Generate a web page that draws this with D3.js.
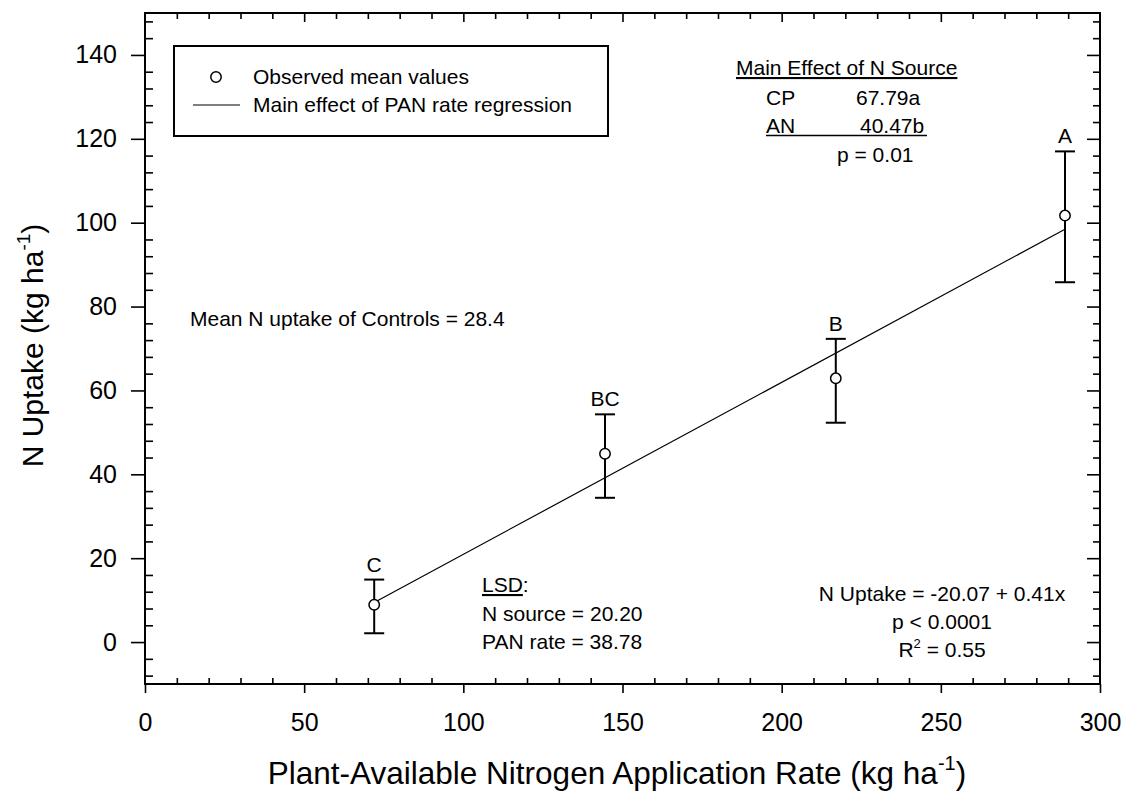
<!DOCTYPE html>
<html>
<head>
<meta charset="utf-8">
<script src="https://cdn.jsdelivr.net/npm/d3@7"></script>
<style>
  html, body { margin: 0; padding: 0; background: #fff; }
  svg { display: block; font-family: "Liberation Sans", Arial, Helvetica, sans-serif; }
</style>
</head>
<body>
<svg id="chart" width="1124" height="798"></svg>
<script>
// PAN application rates (kg ha-1) and observed mean N uptake
const panRate   = [72, 144.5, 217, 289];
const meanUptake = [8.9, 44.9, 62.9, 101.7];
const barLow    = [2.1, 34.4, 52.3, 85.8];
const barHigh   = [14.9, 54.3, 72.3, 117.0];
const groupLetters = ["C", "BC", "B", "A"];

// Regression: N Uptake = -20.07 + 0.41x
const regIntercept = -20.07;
const regSlope = 0.41;

const xTicks = [0, 50, 100, 150, 200, 250, 300];
const yTicks = [0, 20, 40, 60, 80, 100, 120, 140];

const svg = d3.select("#chart");
const L = 145, R = 1100, T = 13, B = 684;

const x = d3.scaleLinear().domain([0, 300]).range([L, R]);
const y = d3.scaleLinear().domain([-10, 150]).range([B, T]);

const xMinor = d3.range(10, 300, 10).filter(v => v % 50 !== 0);
const yMinor = d3.range(-8, 150, 4).filter(v => v % 20 !== 0);

const g = svg.append("g");

// Bottom axis: major ticks outside, minor ticks inside
g.append("g")
  .attr("transform", `translate(0,${B})`)
  .call(d3.axisBottom(x).tickValues(xTicks).tickSize(9).tickPadding(20).tickSizeOuter(0))
  .call(a => a.selectAll("text").attr("font-size", 25).attr("fill", "#000").attr("font-family", "inherit"));
g.append("g")
  .attr("transform", `translate(0,${B})`)
  .call(d3.axisTop(x).tickValues(xMinor).tickSize(6).tickFormat("").tickSizeOuter(0));

// Top axis: ticks inside
g.append("g")
  .attr("transform", `translate(0,${T})`)
  .call(d3.axisBottom(x).tickValues(xTicks.slice(1, -1)).tickSize(9).tickFormat("").tickSizeOuter(0));
g.append("g")
  .attr("transform", `translate(0,${T})`)
  .call(d3.axisBottom(x).tickValues(xMinor).tickSize(6).tickFormat("").tickSizeOuter(0));

// Left axis: major ticks outside, minor inside
g.append("g")
  .attr("transform", `translate(${L},0)`)
  .call(d3.axisLeft(y).tickValues(yTicks).tickSize(14).tickPadding(14).tickSizeOuter(0))
  .call(a => a.selectAll("text").attr("font-size", 25).attr("fill", "#000").attr("font-family", "inherit"));
g.append("g")
  .attr("transform", `translate(${L},0)`)
  .call(d3.axisRight(y).tickValues(yMinor).tickSize(8).tickFormat("").tickSizeOuter(0));

// Right axis: ticks inside
g.append("g")
  .attr("transform", `translate(${R},0)`)
  .call(d3.axisLeft(y).tickValues(yTicks).tickSize(13).tickFormat("").tickSizeOuter(0));
g.append("g")
  .attr("transform", `translate(${R},0)`)
  .call(d3.axisLeft(y).tickValues(yMinor).tickSize(7).tickFormat("").tickSizeOuter(0));

g.selectAll(".domain").remove();
g.selectAll(".tick line").attr("stroke", "#000").attr("stroke-width", 1.6);

// Frame
svg.append("rect")
  .attr("x", L).attr("y", T).attr("width", R - L).attr("height", B - T)
  .attr("fill", "none").attr("stroke", "#000").attr("stroke-width", 2);

// Regression line across the observed range
const xr = d3.extent(panRate);
svg.append("line")
  .attr("x1", x(xr[0])).attr("y1", y(regIntercept + regSlope * xr[0]))
  .attr("x2", x(xr[1])).attr("y2", y(regIntercept + regSlope * xr[1]))
  .attr("stroke", "#000").attr("stroke-width", 1.2);

// Error bars
const pts = panRate.map((v, i) => ({ x: v, m: meanUptake[i], lo: barLow[i], hi: barHigh[i], lab: groupLetters[i] }));
const eb = svg.append("g").attr("stroke", "#000").attr("stroke-width", 2);
pts.forEach(d => {
  eb.append("line").attr("x1", x(d.x)).attr("x2", x(d.x)).attr("y1", y(d.lo)).attr("y2", y(d.hi));
  eb.append("line").attr("x1", x(d.x) - 10).attr("x2", x(d.x) + 10).attr("y1", y(d.lo)).attr("y2", y(d.lo));
  eb.append("line").attr("x1", x(d.x) - 10).attr("x2", x(d.x) + 10).attr("y1", y(d.hi)).attr("y2", y(d.hi));
});

// Mean markers
svg.append("g").selectAll("circle").data(pts).join("circle")
  .attr("cx", d => x(d.x)).attr("cy", d => y(d.m)).attr("r", 5.2)
  .attr("fill", "#fff").attr("stroke", "#000").attr("stroke-width", 1.5);

// Mean separation letters
svg.append("g").selectAll("text").data(pts).join("text")
  .attr("x", d => x(d.x)).attr("y", d => y(d.hi) - 8)
  .attr("text-anchor", "middle").attr("font-size", 21).text(d => d.lab);

// Legend
const lg = svg.append("g");
lg.append("rect").attr("x", 174).attr("y", 46).attr("width", 434).attr("height", 90)
  .attr("fill", "#fff").attr("stroke", "#000").attr("stroke-width", 2);
lg.append("circle").attr("cx", 216).attr("cy", 77).attr("r", 5.2)
  .attr("fill", "#fff").attr("stroke", "#000").attr("stroke-width", 1.5);
lg.append("text").attr("x", 253).attr("y", 84).attr("font-size", 21).text("Observed mean values");
lg.append("line").attr("x1", 193).attr("x2", 240).attr("y1", 105).attr("y2", 105)
  .attr("stroke", "#000").attr("stroke-width", 1.2);
lg.append("text").attr("x", 253).attr("y", 112).attr("font-size", 21).text("Main effect of PAN rate regression");

// Annotations
const ann = svg.append("g").attr("font-size", 21).attr("fill", "#000");
ann.append("text").attr("x", 190).attr("y", 326).text("Mean N uptake of Controls = 28.4");

ann.append("text").attr("x", 736).attr("y", 75).attr("text-decoration", "underline").text("Main Effect of N Source");
ann.append("text").attr("x", 766).attr("y", 105).text("CP");
ann.append("text").attr("x", 856).attr("y", 105).text("67.79a");
ann.append("text").attr("x", 766).attr("y", 133).text("AN");
ann.append("text").attr("x", 860).attr("y", 133).text("40.47b");
ann.append("line").attr("x1", 766).attr("x2", 927).attr("y1", 135.5).attr("y2", 135.5)
  .attr("stroke", "#000").attr("stroke-width", 1.3);
ann.append("text").attr("x", 837).attr("y", 162).text("p = 0.01");

const lsd = ann.append("text").attr("x", 482).attr("y", 592);
lsd.append("tspan").attr("text-decoration", "underline").text("LSD");
lsd.append("tspan").text(":");
ann.append("text").attr("x", 482).attr("y", 621).text("N source = 20.20");
ann.append("text").attr("x", 482).attr("y", 649).text("PAN rate = 38.78");

ann.append("text").attr("x", 942).attr("y", 601).attr("text-anchor", "middle").text("N Uptake = -20.07 + 0.41x");
ann.append("text").attr("x", 942).attr("y", 629).attr("text-anchor", "middle").text("p < 0.0001");
const r2 = ann.append("text").attr("x", 942).attr("y", 657).attr("text-anchor", "middle");
r2.append("tspan").text("R");
r2.append("tspan").attr("font-size", 13).attr("dy", -9).text("2");
r2.append("tspan").attr("dy", 9).text(" = 0.55");

// Axis titles
const xt = svg.append("text").attr("x", 617).attr("y", 784)
  .attr("text-anchor", "middle").attr("font-size", 31.5);
xt.append("tspan").text("Plant-Available Nitrogen Application Rate (kg ha");
xt.append("tspan").attr("font-size", 20).attr("dy", -14).text("-1");
xt.append("tspan").attr("dy", 14).text(")");

const yt = svg.append("text").attr("transform", `translate(43,${(T + B) / 2 - 3}) rotate(-90)`)
  .attr("text-anchor", "middle").attr("font-size", 30);
yt.append("tspan").text("N Uptake (kg ha");
yt.append("tspan").attr("font-size", 19).attr("dy", -13).text("-1");
yt.append("tspan").attr("dy", 13).text(")");
</script>
</body>
</html>
